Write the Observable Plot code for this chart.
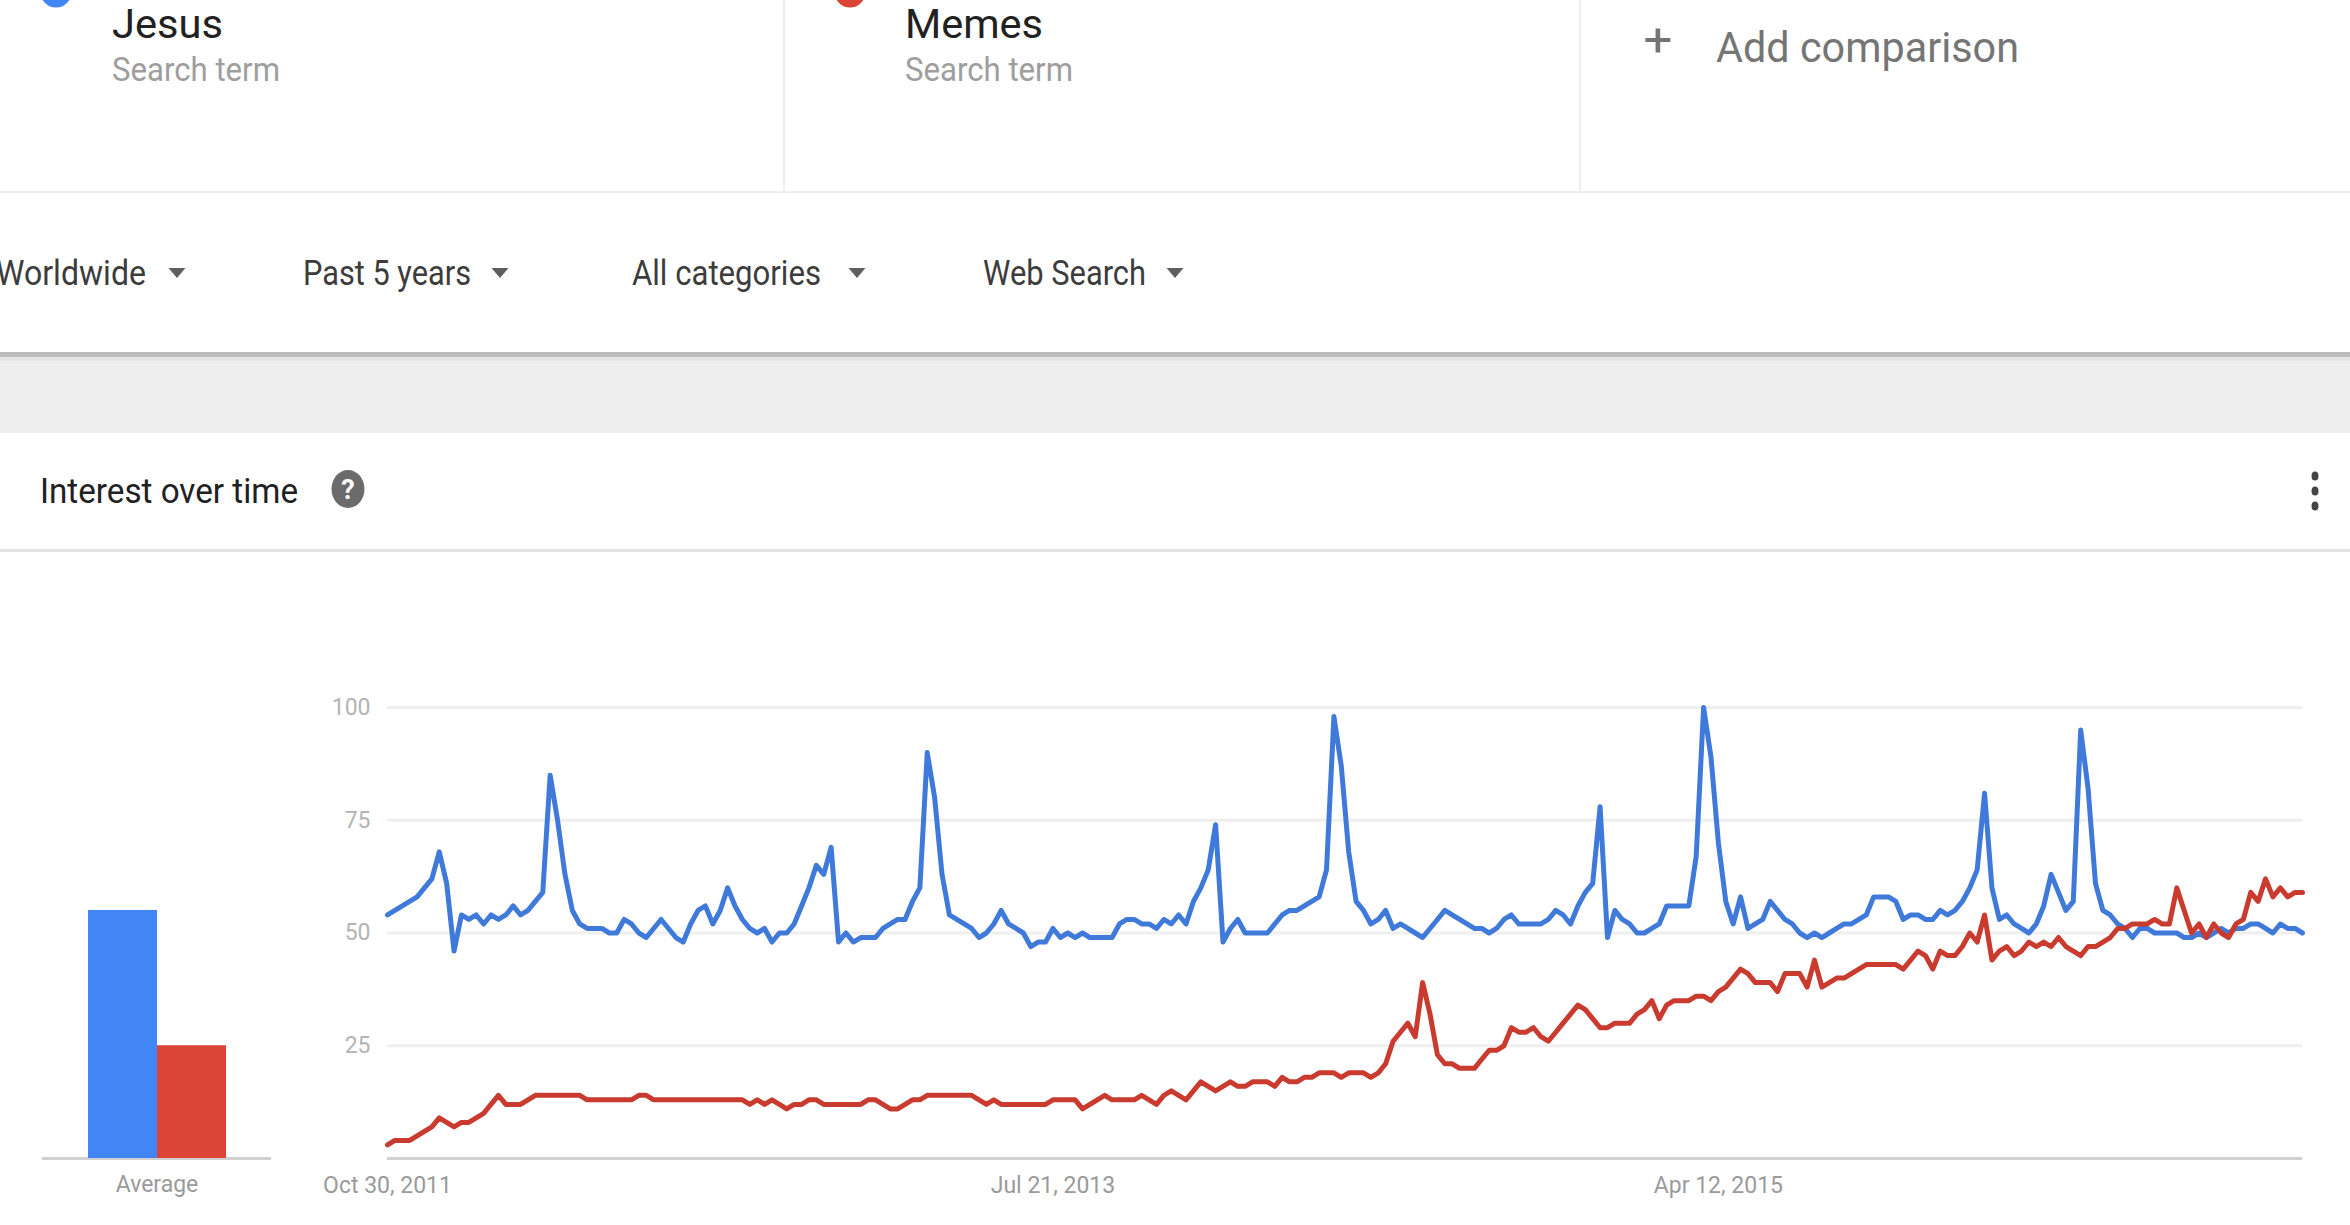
<!DOCTYPE html>
<html>
<head>
<meta charset="utf-8">
<script src="https://cdn.jsdelivr.net/npm/d3@7"></script>
<script src="https://cdn.jsdelivr.net/npm/@observablehq/plot@0.6"></script>
<style>
  html, body { margin: 0; padding: 0; background: #ffffff; width: 2350px; height: 1225px; overflow: hidden; }
  #page { position: relative; width: 2350px; height: 1225px; font-family: Roboto, "Noto Sans", sans-serif; }
  #page svg { overflow: visible; }
</style>
</head>
<body>
<div id="page"></div>
<script>
// ---------------- DATA ----------------
const terms = ["Jesus", "Memes"];
const termSubtitle = "Search term";
const addLabel = "Add comparison";
const filters = ["Worldwide", "Past 5 years", "All categories", "Web Search"];
const sectionTitle = "Interest over time";
const averageLabel = "Average";
const averages = [55, 25];
const startDate = "2011-10-30";   // weekly series start
const xTickLabels = ["Oct 30, 2011", "Jul 21, 2013", "Apr 12, 2015"];
const xTickWeeks = [0, 90, 180];
const yTicks = [25, 50, 75, 100];

const jesus = [
  54,55,56,57,58,60,62,68,61,46,
  54,53,54,52,54,53,54,56,54,55,
  57,59,85,75,63,55,52,51,51,51,
  50,50,53,52,50,49,51,53,51,49,
  48,52,55,56,52,55,60,56,53,51,
  50,51,48,50,50,52,56,60,65,63,
  69,48,50,48,49,49,49,51,52,53,
  53,57,60,90,80,63,54,53,52,51,
  49,50,52,55,52,51,50,47,48,48,
  51,49,50,49,50,49,49,49,49,52,
  53,53,52,52,51,53,52,54,52,57,
  60,64,74,48,51,53,50,50,50,50,
  52,54,55,55,56,57,58,64,98,87,
  68,57,55,52,53,55,51,52,51,50,
  49,51,53,55,54,53,52,51,51,50,
  51,53,54,52,52,52,52,53,55,54,
  52,56,59,61,78,49,55,53,52,50,
  50,51,52,56,56,56,56,67,100,89,
  70,57,52,58,51,52,53,57,55,53,
  52,50,49,50,49,50,51,52,52,53,
  54,58,58,58,57,53,54,54,53,53,
  55,54,55,57,60,64,81,60,53,54,
  52,51,50,52,56,63,59,55,57,95,
  82,61,55,54,52,51,49,51,51,50,
  50,50,50,49,49,50,49,50,51,50,
  51,51,52,52,51,50,52,51,51,50
];

const memes = [
  3,4,4,4,5,6,7,9,8,7,
  8,8,9,10,12,14,12,12,12,13,
  14,14,14,14,14,14,14,13,13,13,
  13,13,13,13,14,14,13,13,13,13,
  13,13,13,13,13,13,13,13,13,12,
  13,12,13,12,11,12,12,13,13,12,
  12,12,12,12,12,13,13,12,11,11,
  12,13,13,14,14,14,14,14,14,14,
  13,12,13,12,12,12,12,12,12,12,
  13,13,13,13,11,12,13,14,13,13,
  13,13,14,13,12,14,15,14,13,15,
  17,16,15,16,17,16,16,17,17,17,
  16,18,17,17,18,18,19,19,19,18,
  19,19,19,18,19,21,26,28,30,27,
  39,32,23,21,21,20,20,20,22,24,
  24,25,29,28,28,29,27,26,28,30,
  32,34,33,31,29,29,30,30,30,32,
  33,35,31,34,35,35,35,36,36,35,
  37,38,40,42,41,39,39,39,37,41,
  41,41,38,44,38,39,40,40,41,42,
  43,43,43,43,43,42,44,46,45,42,
  46,45,45,47,50,48,54,44,46,47,
  45,46,48,47,48,47,49,47,46,45,
  47,47,48,49,51,51,52,52,52,53,
  52,52,60,55,50,52,49,52,50,49,
  52,53,59,57,62,58,60,58,59,59
];

// ---------------- COLOURS ----------------
const barColors = ["#4285f4", "#db4437"];
const lineColors = ["#3f79d9", "#c93a2f"];

// ---------------- DERIVED TABLES ----------------
const t0 = new Date(startDate + "T00:00:00Z").getTime();
const week = 7 * 864e5;
const dateAt = i => new Date(t0 + i * week);
const jesusRows = jesus.map((v, i) => ({date: dateAt(i), value: v}));
const memesRows = memes.map((v, i) => ({date: dateAt(i), value: v}));
const tickDates = xTickWeeks.map(dateAt);
const tickLabelByTime = new Map(tickDates.map((d, i) => [d.getTime(), xTickLabels[i]]));
const avgRows = terms.map((t, i) => ({term: t, value: averages[i]}));

const page = d3.select("#page");

// ---------------- PAGE CHROME (svg) ----------------
const chrome = page.append("svg")
  .attr("width", 2350).attr("height", 1225)
  .style("position", "absolute").style("left", "0px").style("top", "0px");

// header dividers
chrome.append("line").attr("x1", 0).attr("x2", 2350).attr("y1", 192).attr("y2", 192)
  .attr("stroke", "#efefef").attr("stroke-width", 2);
[784, 1580].forEach(x => chrome.append("line").attr("x1", x).attr("x2", x).attr("y1", 0).attr("y2", 192)
  .attr("stroke", "#eeeeee").attr("stroke-width", 2));

// term headers
const termX = [112, 905];
const termW = [111, 138];
const dotX = [56, 850];
terms.forEach((t, i) => {
  chrome.append("circle").attr("cx", dotX[i]).attr("cy", -8).attr("r", 15.5).attr("fill", barColors[i]);
  chrome.append("text").attr("x", termX[i]).attr("y", 38).attr("font-size", 40)
    .attr("fill", "#212121").attr("textLength", termW[i]).attr("lengthAdjust", "spacingAndGlyphs").text(t);
  chrome.append("text").attr("x", termX[i]).attr("y", 81).attr("font-size", 33)
    .attr("fill", "#9e9e9e").attr("textLength", 168).attr("lengthAdjust", "spacingAndGlyphs").text(termSubtitle);
});

// add comparison
chrome.append("text").attr("x", 1658).attr("y", 56).attr("font-size", 46).attr("text-anchor", "middle")
  .attr("fill", "#757575").attr("textLength", 29).attr("lengthAdjust", "spacingAndGlyphs").text("+");
chrome.append("text").attr("x", 1716).attr("y", 62).attr("font-size", 42)
  .attr("fill", "#757575").attr("textLength", 303).attr("lengthAdjust", "spacingAndGlyphs").text(addLabel);

// filters row
const filterX = [-4, 303, 632, 983];
const filterW = [150, 168, 189, 163];
const caretX = [177, 500, 857, 1175];
filters.forEach((f, i) => {
  chrome.append("text").attr("x", filterX[i]).attr("y", 285).attr("font-size", 35)
    .attr("fill", "#3c3c3c").attr("textLength", filterW[i]).attr("lengthAdjust", "spacingAndGlyphs").text(f);
  const cx = caretX[i];
  chrome.append("path").attr("d", `M${cx - 8.5},268 L${cx + 8.5},268 L${cx},278 Z`).attr("fill", "#5f5f5f");
});

// toolbar shadow + grey band
chrome.append("rect").attr("x", 0).attr("y", 356).attr("width", 2350).attr("height", 77).attr("fill", "#eeeeee");
chrome.append("line").attr("x1", 0).attr("x2", 2350).attr("y1", 354.5).attr("y2", 354.5)
  .attr("stroke", "#bcbcbc").attr("stroke-width", 5);
chrome.append("line").attr("x1", 0).attr("x2", 2350).attr("y1", 359).attr("y2", 359)
  .attr("stroke", "#e2e2e2").attr("stroke-width", 3);

// section header
chrome.append("text").attr("x", 40).attr("y", 503).attr("font-size", 35)
  .attr("fill", "#212121").attr("textLength", 258).attr("lengthAdjust", "spacingAndGlyphs").text(sectionTitle);
chrome.append("ellipse").attr("cx", 348).attr("cy", 489).attr("rx", 16.5).attr("ry", 19).attr("fill", "#6b6b6b");
chrome.append("text").attr("x", 348).attr("y", 499).attr("font-size", 27).attr("font-weight", 700)
  .attr("text-anchor", "middle").attr("fill", "#ffffff").text("?");
[476, 491, 506].forEach(y => chrome.append("ellipse").attr("cx", 2315).attr("cy", y).attr("rx", 3.5).attr("ry", 4.5).attr("fill", "#444444"));
chrome.append("line").attr("x1", 0).attr("x2", 2350).attr("y1", 550.5).attr("y2", 550.5)
  .attr("stroke", "#e3e3e3").attr("stroke-width", 3);

// ---------------- AVERAGE BAR CHART ----------------
const bar = Plot.plot({
  width: 300, height: 560,
  marginLeft: 42, marginRight: 29, marginTop: 47, marginBottom: 62,
  style: {background: "transparent", fontFamily: "Roboto, sans-serif", overflow: "visible"},
  x: {domain: terms, range: [87, 226], padding: 0, axis: null},
  y: {domain: [0, 100], axis: null},
  color: {domain: terms, range: barColors},
  marks: [
    Plot.ruleY([0], {stroke: "#d0d0d0", strokeWidth: 3}),
    Plot.barY(avgRows, {x: "term", y: "value", fill: "term"}),
    Plot.text([averageLabel], {text: d => d, frameAnchor: "bottom", dy: 33, fontSize: 23, fill: "#9a9a9a"})
  ]
});
bar.style.position = "absolute";
bar.style.left = "0px";
bar.style.top = "660px";
page.node().appendChild(bar);

// ---------------- INTEREST OVER TIME LINE CHART ----------------
const line = Plot.plot({
  width: 2050, height: 560,
  marginLeft: 87, marginRight: 48, marginTop: 47, marginBottom: 62,
  style: {background: "transparent", fontFamily: "Roboto, sans-serif", overflow: "visible"},
  x: {type: "utc", domain: [dateAt(0), dateAt(jesus.length - 1)]},
  y: {domain: [0, 100]},
  marks: [
    Plot.ruleY(yTicks, {stroke: "#efefef", strokeWidth: 3}),
    Plot.ruleY([0], {stroke: "#d0d0d0", strokeWidth: 3}),
    Plot.axisY({ticks: yTicks, tickSize: 0, tickPadding: 17, fontSize: 23, fill: "#b4b4b4", label: null}),
    Plot.axisX({ticks: tickDates, tickFormat: d => tickLabelByTime.get(d.getTime()), tickSize: 0, tickPadding: 18,
      fontSize: 23, fill: "#9a9a9a", label: null}),
    Plot.lineY(jesusRows, {x: "date", y: "value", stroke: lineColors[0], strokeWidth: 5}),
    Plot.lineY(memesRows, {x: "date", y: "value", stroke: lineColors[1], strokeWidth: 5})
  ]
});
line.style.position = "absolute";
line.style.left = "300px";
line.style.top = "660px";
page.node().appendChild(line);
</script>
</body>
</html>
